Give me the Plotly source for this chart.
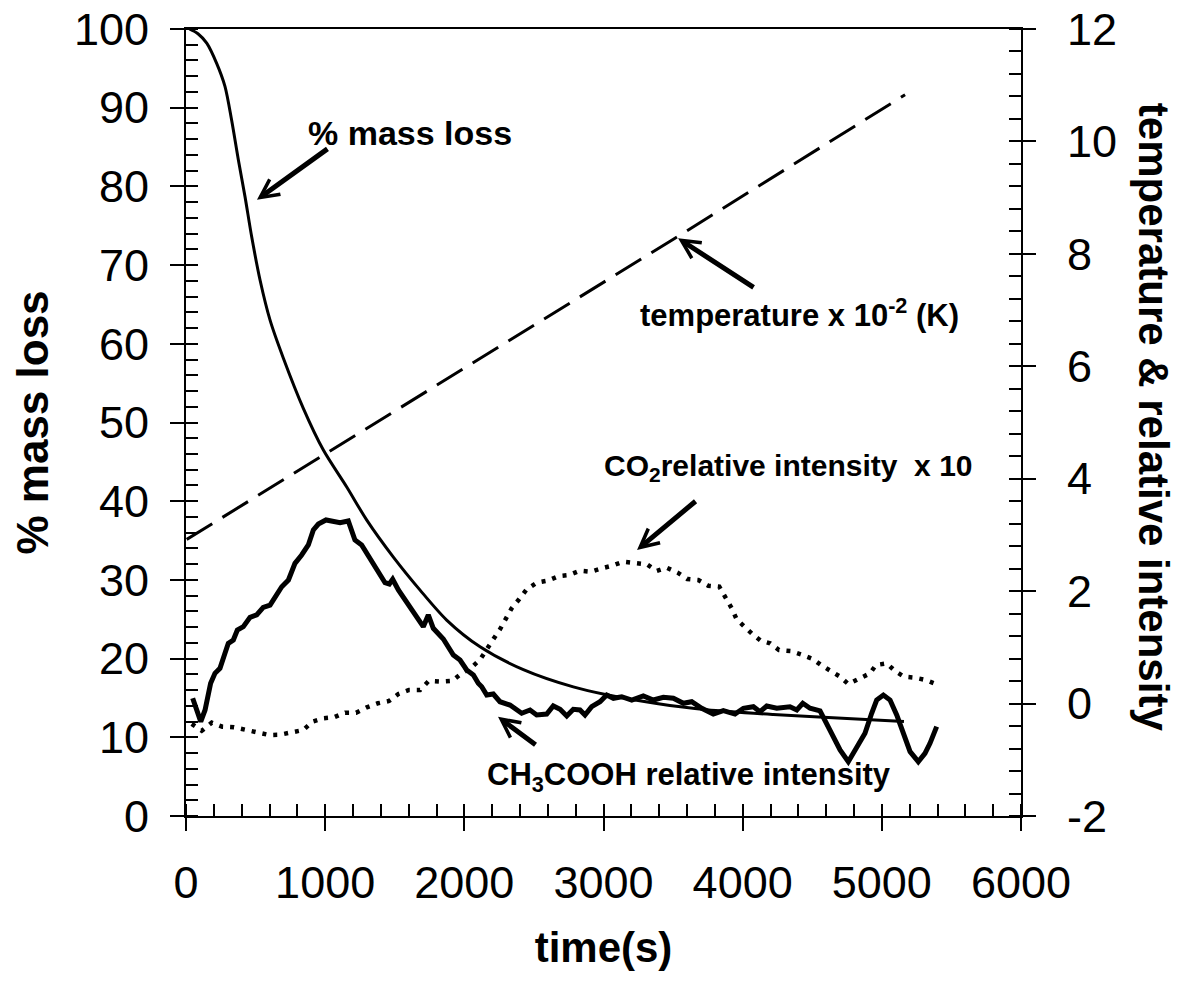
import plotly.graph_objects as go

# ---------------- data ----------------
time_mass = [25, 86, 149, 221, 280, 328, 376, 424, 472, 532, 604, 699, 843, 987, 1155,
             1299, 1490, 1682, 1873, 2113, 2424, 2783, 3023, 3382, 3742, 4220, 4750, 5159]
mass_loss = [100, 99.4, 98.2, 95.6, 92.7, 88.4, 83.4, 78.7, 73.6, 68.1, 63.0, 58.2, 51.8, 46.5, 41.8,
             37.6, 32.9, 28.7, 24.9, 21.5, 18.6, 16.4, 15.4, 14.3, 13.5, 12.9, 12.4, 12.0]

time_temp = [5, 3502, 5167]
temperature = [2.92, 8.26, 10.83]   # temperature x 10^-2 (K)

time_co2 = [41, 113, 185, 261, 345, 431, 515, 599, 675, 764, 843, 908, 987, 1064, 1143, 1222,
            1299, 1378, 1459, 1526, 1602, 1682, 1744, 1827, 1911, 1981, 2053, 2115, 2165, 2208,
            2256, 2300, 2340, 2395, 2448, 2520, 2599, 2680, 2754, 2831, 2908, 2987, 3063, 3142,
            3222, 3311, 3382, 3454, 3533, 3602, 3681, 3753, 3832, 3880, 3921, 3957, 4017, 4069,
            4130, 4197, 4261, 4345, 4429, 4503, 4563, 4635, 4700, 4759, 4836, 4915, 4958, 5035,
            5095, 5160, 5239, 5315, 5387]
co2_x10 = [-0.363, -0.483, -0.340, -0.411, -0.422, -0.470, -0.518, -0.559, -0.554, -0.518,
           -0.470, -0.322, -0.262, -0.244, -0.162, -0.162, -0.066, 0.005, 0.046, 0.170, 0.241,
           0.241, 0.402, 0.389, 0.402, 0.538, 0.645, 0.789, 0.965, 1.143, 1.321, 1.504, 1.695,
           1.860, 2.033, 2.150, 2.186, 2.269, 2.287, 2.364, 2.346, 2.406, 2.453, 2.524, 2.506,
           2.477, 2.358, 2.417, 2.328, 2.216, 2.198, 2.097, 2.079, 1.890, 1.695, 1.499, 1.357,
           1.238, 1.118, 1.072, 0.953, 0.935, 0.864, 0.793, 0.686, 0.567, 0.478, 0.348, 0.450,
           0.538, 0.686, 0.716, 0.579, 0.478, 0.460, 0.419, 0.348]

time_acid = [48, 106, 137, 177, 208, 244, 280, 304, 340, 369, 412, 460, 508, 555, 604, 652,
             688, 736, 783, 831, 879, 915, 951, 1006, 1058, 1107, 1166, 1214, 1262, 1299, 1334,
             1382, 1430, 1461, 1485, 1526, 1586, 1646, 1705, 1741, 1777, 1849, 1921, 1969, 2017,
             2065, 2100, 2125, 2161, 2208, 2256, 2328, 2412, 2472, 2520, 2592, 2639, 2688, 2736,
             2783, 2831, 2867, 2915, 2975, 3023, 3071, 3131, 3203, 3286, 3358, 3430, 3502, 3574,
             3634, 3706, 3789, 3861, 3945, 4005, 4077, 4125, 4173, 4245, 4340, 4389, 4432, 4484,
             4556, 4604, 4652, 4700, 4759, 4820, 4879, 4927, 4963, 5011, 5059, 5107, 5155, 5203,
             5262, 5310, 5346, 5394]
acid_intensity = [0.094, -0.322, -0.114, 0.361, 0.538, 0.627, 0.894, 1.072, 1.131, 1.309, 1.368,
                  1.535, 1.576, 1.713, 1.753, 1.962, 2.079, 2.198, 2.495, 2.643, 2.821, 3.088,
                  3.194, 3.266, 3.235, 3.218, 3.248, 2.910, 2.821, 2.673, 2.495, 2.317, 2.150,
                  2.127, 2.211, 2.020, 1.812, 1.606, 1.368, 1.576, 1.339, 1.150, 0.864, 0.775,
                  0.597, 0.508, 0.361, 0.300, 0.152, 0.170, 0.033, -0.026, -0.173, -0.114, -0.203,
                  -0.186, -0.043, -0.102, -0.221, -0.102, -0.114, -0.203, -0.056, 0.033, 0.152,
                  0.094, 0.122, 0.063, 0.135, 0.063, 0.111, 0.094, 0.005, 0.033, -0.084, -0.186,
                  -0.127, -0.186, -0.084, -0.056, -0.145, -0.043, -0.084, -0.056, -0.114, 0.005,
                  -0.084, -0.130, -0.351, -0.589, -0.826, -1.034, -0.767, -0.529, -0.173, 0.063,
                  0.152, 0.063, -0.203, -0.529, -0.856, -1.034, -0.885, -0.707, -0.411]

x_ticks = [0, 1000, 2000, 3000, 4000, 5000, 6000]
left_ticks = [0, 10, 20, 30, 40, 50, 60, 70, 80, 90, 100]
right_ticks = [-2, 0, 2, 4, 6, 8, 10, 12]
right_tick_text = ["-2", "0", "2", "4", "6", "8", "10", "12"]

# ---------------- styling ----------------
FONT = "Liberation Sans, Arial, Helvetica, sans-serif"
TICK_SIZE = 45
BLACK = "black"

fig = go.Figure()
fig.add_trace(go.Scatter(x=time_mass, y=mass_loss, mode="lines", yaxis="y",
                         line=dict(color=BLACK, width=3, shape="spline", smoothing=0.8),
                         name="% mass loss"))
fig.add_trace(go.Scatter(x=time_temp, y=temperature, mode="lines", yaxis="y2",
                         line=dict(color=BLACK, width=3, dash="30px,12px"), name="temperature"))
fig.add_trace(go.Scatter(x=time_co2, y=co2_x10, mode="lines", yaxis="y2",
                         line=dict(color=BLACK, width=4.5, dash="4px,7px"), name="CO2"))
fig.add_trace(go.Scatter(x=time_acid, y=acid_intensity, mode="lines", yaxis="y2",
                         line=dict(color=BLACK, width=5), name="CH3COOH"))

tickfont = dict(family=FONT, size=TICK_SIZE, color=BLACK)


def bold(size):
    return dict(family=FONT, size=size, color=BLACK, weight="bold")


fig.update_layout(
    width=1180, height=991,
    margin=dict(l=186, r=159, t=29, b=175, autoexpand=False),
    paper_bgcolor="white", plot_bgcolor="white",
    showlegend=False,
    font=dict(family=FONT, color=BLACK),
    xaxis=dict(range=[0, 6000], tickvals=x_ticks, ticks="outside", ticklen=13, tickwidth=2,
               tickcolor=BLACK, showline=True, linewidth=2, linecolor=BLACK, mirror=True,
               showgrid=False, zeroline=False, tickfont=tickfont, ticklabelstandoff=13,
               minor=dict(ticks="inside", dtick=200, ticklen=12, tickwidth=2, tickcolor=BLACK,
                          showgrid=False),
               title=dict(text="time(s)", font=bold(42), standoff=26)),
    xaxis2=dict(range=[0, 6000], overlaying="x", anchor="y", side="bottom",
                tickvals=x_ticks, ticks="inside", ticklen=12, tickwidth=2, tickcolor=BLACK,
                showticklabels=False, showline=False, showgrid=False, zeroline=False),
    yaxis=dict(range=[0, 100], tickvals=left_ticks, ticks="outside", ticklen=14, tickwidth=2,
               tickcolor=BLACK, showline=True, linewidth=2, linecolor=BLACK,
               showgrid=False, zeroline=False, tickfont=tickfont, ticklabelstandoff=12,
               minor=dict(ticks="inside", dtick=2, ticklen=12, tickwidth=2, tickcolor=BLACK,
                          showgrid=False),
               title=dict(text="% mass loss", font=bold(44), standoff=12)),
    yaxis2=dict(range=[-2, 12], tickvals=right_ticks, ticktext=right_tick_text,
                overlaying="y", side="right", anchor="x",
                ticks="outside", ticklen=13, tickwidth=2, tickcolor=BLACK,
                showline=True, linewidth=2, linecolor=BLACK, showgrid=False, zeroline=False,
                tickfont=tickfont, ticklabelstandoff=22,
                minor=dict(ticks="inside", dtick=0.4, ticklen=12, tickwidth=2, tickcolor=BLACK,
                           showgrid=False)),
    yaxis3=dict(range=[-2, 12], tickvals=right_ticks, overlaying="y", side="right", anchor="x",
                ticks="inside", ticklen=12, tickwidth=2, tickcolor=BLACK,
                showticklabels=False, showline=False, showgrid=False, zeroline=False),
)

# right axis title (reads top to bottom)
fig.add_annotation(text="temperature & relative intensity", xref="paper", yref="paper",
                   x=1.158, y=0.506, showarrow=False, textangle=90,
                   font=bold(42), xanchor="center", yanchor="middle")

# curve labels: (text, time, left-axis value, font size)
labels = [
    ("% mass loss", 860, 86.8, 34),
    ("temperature x 10<sup>-2</sup> (K)", 3250, 63.9, 31),
    ("CO<sub>2</sub>relative intensity  x 10", 2990, 44.3, 30),
    ("CH<sub>3</sub>COOH relative intensity", 2150, 4.96, 31),
]
for txt, lx, ly, fs in labels:
    fig.add_annotation(text=txt, x=lx, y=ly, xref="x", yref="y", showarrow=False,
                       xanchor="left", yanchor="middle", font=bold(fs))

# arrows: tip (time, left-axis value) and tail offset in px
arrows = [
    (510, 78.3, 72, -52),
    (3536, 73.4, 77, 50),
    (3241, 33.8, 60, -50),
    (2242, 12.6, 39, 29),
]
for tx, ty, dx, dy in arrows:
    fig.add_annotation(text="", x=tx, y=ty, xref="x", yref="y", ax=dx, ay=dy,
                       axref="pixel", ayref="pixel", showarrow=True, arrowhead=5,
                       arrowwidth=5, arrowsize=0.72, arrowcolor=BLACK)

fig.write_html("out.html")
